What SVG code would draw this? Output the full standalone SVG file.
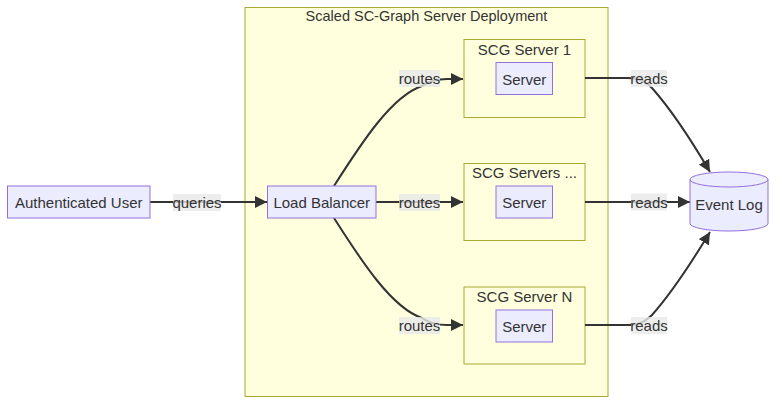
<svg xmlns="http://www.w3.org/2000/svg" width="784" height="409" viewBox="0 0 784 409">
<style>
text{font-family:"Liberation Sans",Arial,sans-serif;font-size:15px;fill:#333;text-anchor:middle;dominant-baseline:central}
.cl{fill:#ffffde;stroke:#aaaa33;stroke-width:1}
.nd{fill:#ececff;stroke:#9370db;stroke-width:1}
.ed{fill:none;stroke:#333;stroke-width:2;marker-end:url(#arr)}
.lb{fill:#e8e8e8;opacity:0.8}
</style>
<defs>
<marker id="arr" viewBox="0 0 10 10" refX="10" refY="5" markerWidth="12" markerHeight="12" markerUnits="userSpaceOnUse" orient="auto">
<path d="M0,0 L10,5 L0,10 z" fill="#333"/>
</marker>
</defs>
<g id="cluster-deployment">
<rect class="cl" x="245" y="7.5" width="363" height="389"/>
<text x="426.5" y="16" style="font-size:14.5px">Scaled SC-Graph Server Deployment</text>
</g>
<g id="cluster-server1">
<rect class="cl" x="464" y="39.5" width="121" height="78"/>
<text x="524.5" y="49">SCG Server 1</text>
</g>
<g id="cluster-servers">
<rect class="cl" x="464" y="163.5" width="121" height="77"/>
<text x="524.5" y="172">SCG Servers ...</text>
</g>
<g id="cluster-serverN">
<rect class="cl" x="464" y="287" width="121" height="77"/>
<text x="524.5" y="296">SCG Server N</text>
</g>
<g id="connectors">
<path class="ed" d="M150,202 L267,202"/>
<path class="ed" d="M334,186 C362,142 392,96 422,86 Q432,79 447,79 L463,79"/>
<path class="ed" d="M376,202 L463,202"/>
<path class="ed" d="M334,218 C362,262 392,308 422,318 Q432,325 447,325 L463,325"/>
<path class="ed" d="M585,78 L628,78 C640,78 646,82 652,88 C668,106 690,138 710,172"/>
<path class="ed" d="M585,202 L690,202"/>
<path class="ed" d="M585,325 L628,325 C640,325 646,321 652,315 C668,297 690,265 710,232"/>
<rect class="lb" x="173" y="194" width="48" height="17"/>
<text x="197" y="202.5">queries</text>
<rect class="lb" x="399" y="70" width="41" height="17"/>
<text x="419.5" y="78.5">routes</text>
<rect class="lb" x="399" y="194" width="41" height="17"/>
<text x="419.5" y="202.5">routes</text>
<rect class="lb" x="399" y="317" width="41" height="17"/>
<text x="419.5" y="325.5">routes</text>
<rect class="lb" x="631" y="70" width="36" height="17"/>
<text x="649" y="78.5">reads</text>
<rect class="lb" x="631" y="193.5" width="36" height="17"/>
<text x="649" y="202">reads</text>
<rect class="lb" x="631" y="317" width="36" height="17"/>
<text x="649" y="325.5">reads</text>
</g>
<g id="node-user">
<rect class="nd" x="7.5" y="186" width="142.5" height="32"/>
<text x="78.75" y="202.5">Authenticated User</text>
</g>
<g id="node-lb">
<rect class="nd" x="267.5" y="186" width="108.5" height="32"/>
<text x="321.75" y="202.5">Load Balancer</text>
</g>
<g id="node-server1">
<rect class="nd" x="496" y="62.5" width="56.5" height="32"/>
<text x="524.25" y="79">Server</text>
</g>
<g id="node-servers">
<rect class="nd" x="496" y="186" width="56.5" height="32"/>
<text x="524.25" y="202.5">Server</text>
</g>
<g id="node-serverN">
<rect class="nd" x="496" y="310" width="56.5" height="32"/>
<text x="524.25" y="326">Server</text>
</g>
<g id="node-eventlog">
<path class="nd" d="M690,179.5 a39,7.5 0 0 0 78,0 a39,7.5 0 0 0 -78,0 l0,44 a39,7.5 0 0 0 78,0 l0,-44"/>
<text x="729" y="204">Event Log</text>
</g>
</svg>
